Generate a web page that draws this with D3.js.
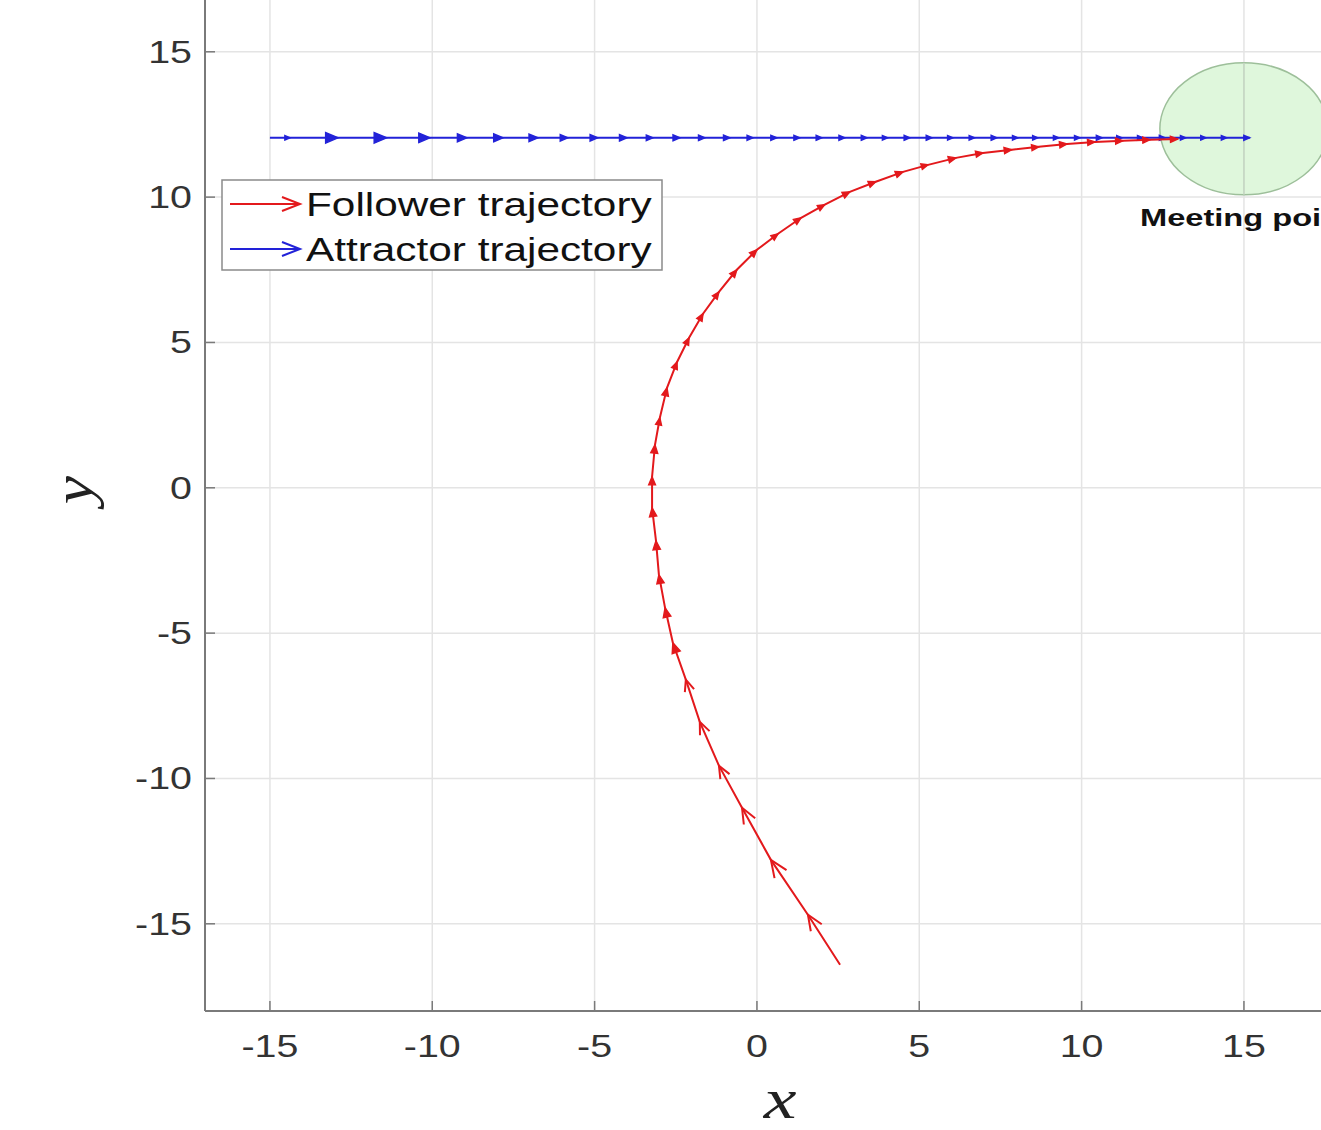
<!DOCTYPE html>
<html>
<head>
<meta charset="utf-8">
<script src="https://cdn.jsdelivr.net/npm/d3@7"></script>
<style>
  html, body { margin: 0; padding: 0; background: #fff; overflow: hidden; }
  svg { display: block; }
</style>
</head>
<body>
<svg id="chart" width="1321" height="1130"></svg>
<script>
// follower (red) trajectory
const followerX = [2.56, 1.57, 0.43, -0.46, -1.17, -1.76, -2.19, -2.59, -2.83, -3.02,
  -3.11, -3.23, -3.23, -3.14, -2.99, -2.77, -2.46, -2.09, -1.66, -1.17,
  -0.62, 0.00, 0.65, 1.36, 2.09, 2.86, 3.66, 4.50, 5.27, 6.13,
  6.96, 7.85, 8.68, 9.55, 10.41, 11.27, 12.10, 12.96];
const followerY = [-16.41, -14.69, -12.80, -11.01, -9.56, -8.05, -6.60, -5.33, -4.13, -2.99,
  -1.82, -0.69, 0.38, 1.48, 2.41, 3.44, 4.33, 5.16, 5.99, 6.74,
  7.50, 8.19, 8.74, 9.29, 9.74, 10.18, 10.53, 10.87, 11.11, 11.35,
  11.52, 11.63, 11.73, 11.83, 11.90, 11.94, 11.97, 12.00];

// attractor (blue) trajectory
const attractorX = [-15.00, -14.38, -12.90, -11.40, -10.07, -8.93, -7.82, -6.74, -5.82, -4.90,
  -4.00, -3.20, -2.37, -1.60, -0.83, -0.12, 0.62, 1.32, 2.00, 2.71,
  3.39, 4.03, 4.71, 5.39, 6.04, 6.71, 7.39, 8.04, 8.65, 9.30,
  9.95, 10.63, 11.24, 11.89, 12.57, 13.21, 13.83, 14.47, 15.18];
const attractorY = [12.04, 12.04, 12.04, 12.04, 12.04, 12.04, 12.04, 12.04, 12.04, 12.04,
  12.04, 12.04, 12.04, 12.04, 12.04, 12.04, 12.04, 12.04, 12.04, 12.04,
  12.04, 12.04, 12.04, 12.04, 12.04, 12.04, 12.04, 12.04, 12.04, 12.04,
  12.04, 12.04, 12.04, 12.04, 12.04, 12.04, 12.04, 12.04, 12.04];

// meeting point ellipse (centre and radii in data units)
const meetCenter = [15.0, 12.35];
const meetRadius = [2.59, 2.27];

const xTicks = [-15, -10, -5, 0, 5, 10, 15];
const yTicks = [-15, -10, -5, 0, 5, 10, 15];
const legendLabels = ["Follower trajectory", "Attractor trajectory"];

const RED = "#e3191c";
const BLUE = "#2222d8";
const SX = 1.27; // the source picture is stretched sideways

const svg = d3.select("#chart");

const x = d3.scaleLinear().domain([-17, 18]).range([205, 205 + 35 * 32.467]);
const y = d3.scaleLinear().domain([-18, 17.5]).range([1011, 1011 - 35.5 * 29.067]);

const left = x(-17), bottom = y(-18);

// grid
let grid = svg.append("g");
xTicks.forEach(t => {
  grid.append("line").attr("x1", x(t)).attr("x2", x(t)).attr("y1", 0).attr("y2", bottom)
    .attr("stroke", "#e4e4e4").attr("stroke-width", 1.5);
});
yTicks.forEach(t => {
  grid.append("line").attr("x1", left).attr("x2", 1321).attr("y1", y(t)).attr("y2", y(t))
    .attr("stroke", "#e4e4e4").attr("stroke-width", 1.5);
});

// meeting point
svg.append("ellipse")
  .attr("cx", x(meetCenter[0])).attr("cy", y(meetCenter[1]))
  .attr("rx", x(meetCenter[0] + meetRadius[0]) - x(meetCenter[0]))
  .attr("ry", y(meetCenter[1]) - y(meetCenter[1] + meetRadius[1]))
  .attr("fill", "#c9f2c4").attr("fill-opacity", 0.6)
  .attr("stroke", "#9dbf9a").attr("stroke-width", 1.5);
// grid line through the disc stays visible
svg.append("line").attr("x1", x(15)).attr("x2", x(15))
  .attr("y1", y(meetCenter[1] + meetRadius[1])).attr("y2", y(meetCenter[1] - meetRadius[1]))
  .attr("stroke", "#c4d4c2").attr("stroke-width", 1.5);

svg.append("text")
  .attr("transform", `translate(1140,226) scale(1.36,1)`)
  .attr("font-family", "Liberation Sans, Arial, sans-serif")
  .attr("font-weight", "bold").attr("font-size", 24).attr("fill", "#111")
  .text("Meeting point");

// quiver-like trajectory
function drawTrajectory(xs, ys, color, openLimit) {
  const pts = xs.map((v, i) => [x(v), y(ys[i])]);
  const g = svg.append("g");
  g.append("path")
    .attr("d", d3.line()(pts))
    .attr("fill", "none").attr("stroke", color).attr("stroke-width", 2);
  for (let i = 1; i < pts.length; i++) {
    const [x0, y0] = pts[i - 1];
    const [x1, y1] = pts[i];
    const dx = x1 - x0, dy = y1 - y0;
    const len = Math.sqrt(dx * dx + dy * dy);
    const ux = dx / len, uy = dy / len;
    const hl = 0.26 * len, hw = 0.42 * hl;
    const bx = x1 - ux * hl, by = y1 - uy * hl;
    const a = [bx - uy * hw, by + ux * hw];
    const b = [bx + uy * hw, by - ux * hw];
    if (len < openLimit) {
      g.append("path").attr("d", `M${a}L${x1},${y1}L${b}Z`)
        .attr("fill", color).attr("stroke", color).attr("stroke-width", 1.4);
    } else {
      g.append("path").attr("d", `M${a}L${x1},${y1}L${b}`)
        .attr("fill", "none").attr("stroke", color).attr("stroke-width", 2);
    }
  }
}
drawTrajectory(attractorX, attractorY, BLUE, 100);
drawTrajectory(followerX, followerY, RED, 42);

// axes
const axisColor = "#7a7a7a";
svg.append("line").attr("x1", left).attr("x2", left).attr("y1", 0).attr("y2", bottom)
  .attr("stroke", axisColor).attr("stroke-width", 2);
svg.append("line").attr("x1", left).attr("x2", 1321).attr("y1", bottom).attr("y2", bottom)
  .attr("stroke", axisColor).attr("stroke-width", 2);

const tickFont = "Liberation Sans, Arial, sans-serif";
xTicks.forEach(t => {
  svg.append("line").attr("x1", x(t)).attr("x2", x(t)).attr("y1", bottom).attr("y2", bottom - 10)
    .attr("stroke", axisColor).attr("stroke-width", 1.5);
  svg.append("text")
    .attr("transform", `translate(${x(t)},${bottom + 46}) scale(${SX},1)`)
    .attr("text-anchor", "middle").attr("font-family", tickFont)
    .attr("font-size", 31).attr("fill", "#333").text(t);
});
yTicks.forEach(t => {
  svg.append("line").attr("x1", left).attr("x2", left + 10).attr("y1", y(t)).attr("y2", y(t))
    .attr("stroke", axisColor).attr("stroke-width", 1.5);
  svg.append("text")
    .attr("transform", `translate(192,${y(t) + 11}) scale(${SX},1)`)
    .attr("text-anchor", "end").attr("font-family", tickFont)
    .attr("font-size", 31).attr("fill", "#333").text(t);
});

// axis labels
svg.append("text")
  .attr("transform", `translate(780,1118) scale(${SX},1)`)
  .attr("text-anchor", "middle").attr("font-family", "Liberation Serif, serif")
  .attr("font-style", "italic").attr("font-size", 58).attr("fill", "#222").text("x");
svg.append("text")
  .attr("transform", `translate(92,490) rotate(-90) scale(1.1,1)`)
  .attr("text-anchor", "middle").attr("font-family", "Liberation Serif, serif")
  .attr("font-style", "italic").attr("font-size", 58).attr("fill", "#222").text("y");

// legend
const leg = svg.append("g");
leg.append("rect").attr("x", 222).attr("y", 180).attr("width", 440).attr("height", 90)
  .attr("fill", "#fff").attr("stroke", "#8a8a8a").attr("stroke-width", 1.5);
[RED, BLUE].forEach((c, i) => {
  const ly = 204 + i * 45;
  leg.append("line").attr("x1", 230).attr("x2", 300).attr("y1", ly).attr("y2", ly)
    .attr("stroke", c).attr("stroke-width", 2);
  leg.append("path").attr("d", `M282,${ly - 7}L300,${ly}L282,${ly + 7}`)
    .attr("fill", "none").attr("stroke", c).attr("stroke-width", 2);
  leg.append("text")
    .attr("transform", `translate(306,${ly + 12}) scale(1.245,1)`)
    .attr("font-family", tickFont).attr("font-size", 34).attr("fill", "#111")
    .text(legendLabels[i]);
});
</script>
</body>
</html>
